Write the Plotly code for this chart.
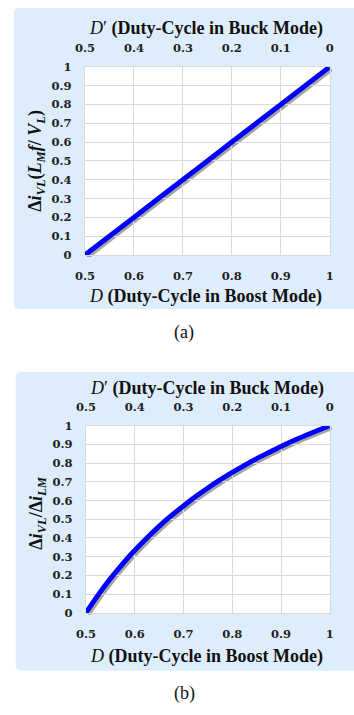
import plotly.graph_objects as go

W, H = 354, 715

# ---- data ----
D_a = [0.5, 0.6, 0.7, 0.8, 0.9, 1.0]
ripple_a = [0.0, 0.2, 0.4, 0.6, 0.8, 1.0]

D_b = [0.5, 0.525, 0.55, 0.575, 0.6, 0.625, 0.65, 0.675, 0.7, 0.725, 0.75,
       0.775, 0.8, 0.825, 0.85, 0.875, 0.9, 0.925, 0.95, 0.975, 1.0]
ripple_b = [0.0, 0.095, 0.182, 0.261, 0.333, 0.40, 0.462, 0.519, 0.571, 0.621, 0.667,
            0.71, 0.75, 0.788, 0.824, 0.857, 0.889, 0.919, 0.947, 0.974, 1.0]

x_ticks = [0.5, 0.6, 0.7, 0.8, 0.9, 1.0]
x_labels_bottom = ["0.5", "0.6", "0.7", "0.8", "0.9", "1"]
x_labels_top = ["0.5", "0.4", "0.3", "0.2", "0.1", "0"]
y_ticks = [0, 0.1, 0.2, 0.3, 0.4, 0.5, 0.6, 0.7, 0.8, 0.9, 1.0]
y_labels = ["0", "0.1", "0.2", "0.3", "0.4", "0.5", "0.6", "0.7", "0.8", "0.9", "1"]

title_top = "<i>D</i>′ <b>(Duty-Cycle in Buck Mode)</b>"
title_bottom = "<i>D</i> <b>(Duty-Cycle in Boost Mode)</b>"
ytitle_a = ("<b>Δ<i>i</i><sub><i>VL</i></sub>(<i>L</i><sub><i>M</i></sub>"
            "<i>f</i>/ <i>V</i><sub><i>L</i></sub>)</b>")
ytitle_b = "<b>Δ<i>i</i><sub><i>VL</i></sub>/Δ<i>i</i><sub><i>LM</i></sub></b>"

BOX = "#DEEDFB"
GRID = "#D9D9D9"
BLUE = "#0000FF"
SHADOW = "rgba(30,30,30,0.40)"
SERIF = "Liberation Serif"
TICKFONT = dict(family="DejaVu Serif", size=11.5, color="#222222", weight="bold")


def px(x):
    return x / W


def py(y):
    return 1 - y / H


# panel geometry in pixels: (left, right, top, bottom)
panels = [
    dict(l=78, r=333, t=61, b=253, box=(4, 372, 1, 308)),
    dict(l=79, r=333, t=427, b=618, box=(6, 372, 372, 677)),
]

fig = go.Figure()
layout = dict(
    width=W, height=H, margin=dict(l=0, r=0, t=0, b=0),
    paper_bgcolor="white", plot_bgcolor="rgba(0,0,0,0)",
    showlegend=False, shapes=[], annotations=[],
)

SHIFT = 2
data_sets = [(D_a, ripple_a), (D_b, ripple_b)]
for i, (p, (xs, ys)) in enumerate(zip(panels, data_sets)):
    sx = 2 * i + 1  # shadow axis index
    mx = 2 * i + 2  # main axis index
    tx = 5 + i      # top overlaying axis index
    sname = "" if sx == 1 else str(sx)
    # shadow subplot
    layout["xaxis" + sname] = dict(domain=[px(p["l"] + SHIFT), px(p["r"] + SHIFT)],
                                   anchor="y" + sname, range=[0.5, 1], visible=False)
    layout["yaxis" + sname] = dict(domain=[py(p["b"] + SHIFT), py(p["t"] + SHIFT)],
                                   anchor="x" + sname, range=[0, 1], visible=False)
    fig.add_trace(go.Scatter(x=xs, y=ys, xaxis="x" + sname, yaxis="y" + sname,
                             mode="lines", line=dict(color=SHADOW, width=5, shape="spline",
                                                     smoothing=0.8),
                             hoverinfo="skip"))
    # main subplot
    layout["xaxis%d" % mx] = dict(
        domain=[px(p["l"]), px(p["r"])], anchor="y%d" % mx, range=[0.5, 1],
        tickmode="array", tickvals=x_ticks, ticktext=x_labels_bottom,
        showgrid=True, gridcolor=GRID, gridwidth=1, zeroline=False,
        showline=True, linecolor=GRID, mirror=True,
        ticks="outside", ticklen=10, tickcolor="rgba(0,0,0,0)", tickfont=TICKFONT)
    layout["yaxis%d" % mx] = dict(
        domain=[py(p["b"]), py(p["t"])], anchor="x%d" % mx, range=[0, 1],
        tickmode="array", tickvals=y_ticks, ticktext=y_labels,
        showgrid=True, gridcolor=GRID, gridwidth=1, zeroline=False,
        showline=True, linecolor=GRID, mirror=True,
        ticks="outside", ticklen=10, tickcolor="rgba(0,0,0,0)", tickfont=TICKFONT)
    layout["xaxis%d" % tx] = dict(
        overlaying="x%d" % mx, anchor="y%d" % mx, side="top", range=[0.5, 1],
        tickmode="array", tickvals=x_ticks, ticktext=x_labels_top,
        showgrid=False, zeroline=False, showline=False,
        ticks="outside", ticklen=9, tickcolor="rgba(0,0,0,0)", tickfont=TICKFONT)
    fig.add_trace(go.Scatter(x=xs, y=ys, xaxis="x%d" % mx, yaxis="y%d" % mx,
                             mode="lines", line=dict(color=BLUE, width=5, shape="spline",
                                                     smoothing=0.8),
                             hoverinfo="skip"))
    fig.add_trace(go.Scatter(x=xs, y=ys, xaxis="x%d" % tx, yaxis="y%d" % mx,
                             mode="lines", line=dict(color=BLUE, width=0), opacity=0,
                             hoverinfo="skip"))

    # blue rounded panel box
    bx0, bx1, by0, by1 = p["box"]
    r = 6
    rx, ry = r / W, r / H
    X0, X1, Y0, Y1 = px(bx0), px(bx1), py(by1), py(by0)
    path = (f"M {X0+rx},{Y0} L {X1-rx},{Y0} Q {X1},{Y0} {X1},{Y0+ry} "
            f"L {X1},{Y1-ry} Q {X1},{Y1} {X1-rx},{Y1} L {X0+rx},{Y1} "
            f"Q {X0},{Y1} {X0},{Y1-ry} L {X0},{Y0+ry} Q {X0},{Y0} {X0+rx},{Y0} Z")
    layout["shapes"].append(dict(type="path", path=path, xref="paper", yref="paper",
                                 fillcolor=BOX, line=dict(width=0), layer="below"))
    layout["shapes"].append(dict(type="rect", xref="paper", yref="paper",
                                 x0=px(p["l"]), x1=px(p["r"]), y0=py(p["b"]), y1=py(p["t"]),
                                 fillcolor="white", line=dict(width=0), layer="below"))

ann_font = dict(family=SERIF, size=18, color="#111111")
texts = [
    (title_top, 204, 22, 0), (title_bottom, 204, 295, 0), (ytitle_a, 28, 157, -90),
    ("(a)", 181, 332, 0),
    (title_top, 205, 389, 0), (title_bottom, 205, 662, 0), (ytitle_b, 29, 516, -90),
    ("(b)", 182, 700, 0),
]
for t, x, y, ang in texts:
    layout["annotations"].append(dict(text=t, x=px(x), y=py(y), xref="paper", yref="paper",
                                      xanchor="center", yanchor="middle", showarrow=False,
                                      textangle=ang, font=dict(ann_font)))

fig.update_layout(**layout)
fig.write_html("out.html")
